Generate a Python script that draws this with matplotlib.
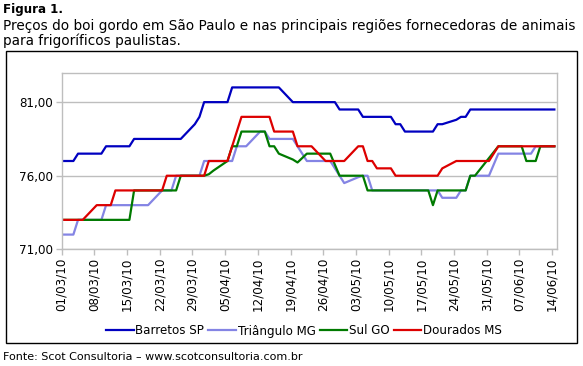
import pandas as pd
import matplotlib.pyplot as plt
import matplotlib.dates as mdates
from matplotlib.patches import Rectangle

# datas (dias úteis) e preços em R$/@
datas = pd.bdate_range("2010-03-01", "2010-06-14")

barretos = [77, 77, 77, 77.5, 77.5,
            77.5, 77.5, 78, 78, 78,
            78, 78.5, 78.5, 78.5, 78.5,
            78.5, 78.5, 78.5, 78.5, 78.5,
            79.5, 80, 81, 81, 81,
            81, 82, 82, 82, 82,
            82, 82, 82, 82, 82,
            81, 81, 81, 81, 81,
            81, 81, 81, 80.5, 80.5,
            80.5, 80, 80, 80, 80,
            80, 79.5, 79.5, 79, 79,
            79, 79, 79, 79.5, 79.5,
            79.8, 80, 80, 80.5, 80.5,
            80.5, 80.5, 80.5, 80.5, 80.5,
            80.5, 80.5, 80.5, 80.5, 80.5,
            80.5]

triangulo = [72, 72, 72, 73, 73,
             73, 73, 74, 74, 74,
             74, 74, 74, 74, 74,
             75, 75, 75, 76, 76,
             76, 76, 77, 77, 77,
             77, 77, 78, 78, 78,
             79, 79, 78.5, 78.5, 78.5,
             78.5, 78, 77.5, 77, 77,
             77, 77, 76.5, 76, 75.5,
             75.9, 76, 76, 75, 75,
             75, 75, 75, 75, 75,
             75, 75, 75, 75, 74.5,
             74.5, 75, 75, 76, 76,
             76, 76.75, 77.5, 77.5, 77.5,
             77.5, 77.5, 77.5, 78, 78,
             78]

sul_go = [73, 73, 73, 73, 73,
          73, 73, 73, 73, 73,
          73, 75, 75, 75, 75,
          75, 75, 75, 75, 76,
          76, 76, 76, 76.1, 76.35,
          77, 78, 78, 79, 79,
          79, 79, 78, 78, 77.5,
          77.1, 76.9, 77.2, 77.5, 77.5,
          77.5, 77.5, 76.75, 76, 76,
          76, 76, 75, 75, 75,
          75, 75, 75, 75, 75,
          75, 75, 74, 75, 75,
          75, 75, 75, 76, 76,
          77.2, 77.6, 78, 78, 78,
          78, 77, 77, 77, 78,
          78]

dourados = [73, 73, 73, 73, 73,
            74, 74, 74, 74, 75,
            75, 75, 75, 75, 75,
            75, 76, 76, 76, 76,
            76, 76, 76, 77, 77,
            77, 78, 79, 80, 80,
            80, 80, 80, 79, 79,
            79, 78, 78, 78, 78,
            77, 77, 77, 77, 77,
            78, 78, 77, 77, 76.5,
            76.5, 76, 76, 76, 76,
            76, 76, 76, 76, 76.5,
            77, 77, 77, 77, 77,
            77, 77.5, 78, 78, 78,
            78, 78, 78, 78, 78,
            78]

series = [("Barretos SP", barretos, "#0000C0"),
          ("Triângulo MG", triangulo, "#8484E4"),
          ("Sul GO", sul_go, "#007A00"),
          ("Dourados MS", dourados, "#DD0000")]

plt.rcParams["font.family"] = ["DejaVu Sans"]
fs = 8.6

fig = plt.figure(figsize=(5.83, 3.66), dpi=100)

# caixa externa do gráfico
fig.patches.append(Rectangle((6 / 583, 1 - 343 / 366), 571 / 583, 292 / 366,
                             transform=fig.transFigure, fill=False,
                             edgecolor="black", linewidth=1.0))

ax = fig.add_axes([61.7 / 583, 1 - 249.3 / 366, 495 / 583, 176.6 / 366])

# pontos no meio do dia (eixo de datas "entre marcas")
x = datas + pd.Timedelta(hours=12)
for nome, valores, cor in series:
    ax.plot(x, valores, color=cor, linewidth=1.6, label=nome)

ax.set_ylim(71, 83)
ax.set_yticks([71, 76, 81])
ax.set_yticklabels(["71,00", "76,00", "81,00"], fontsize=fs)
ax.set_xlim(pd.Timestamp("2010-03-01"), pd.Timestamp("2010-06-15"))
ax.set_xticks(pd.date_range("2010-03-01", "2010-06-14", freq="7D"))
ax.xaxis.set_major_formatter(mdates.DateFormatter("%d/%m/%y"))
plt.setp(ax.get_xticklabels(), rotation=90, fontsize=fs)

ax.grid(axis="y", color="#BEBEBE", linewidth=1.0)
ax.set_axisbelow(True)
for s in ax.spines.values():
    s.set_color("#BEBEBE")
    s.set_linewidth(1.0)
ax.tick_params(axis="both", color="#BEBEBE", length=4, width=1.0, pad=2)

fig.legend(loc="center", bbox_to_anchor=(304 / 583, 1 - 331 / 366), ncol=4,
           frameon=False, fontsize=fs, handlelength=2.3, handletextpad=0.15,
           columnspacing=0.35)

fig.text(3 / 583, 1 - 10 / 366, "Figura 1.", fontsize=fs, fontweight="bold",
         va="center", ha="left")
fig.text(3 / 583, 1 - 26 / 366,
         "Preços do boi gordo em São Paulo e nas principais regiões fornecedoras de animais",
         fontsize=9.8, va="center", ha="left")
fig.text(3 / 583, 1 - 41 / 366, "para frigoríficos paulistas.", fontsize=9.8,
         va="center", ha="left")
fig.text(3 / 583, 1 - 357 / 366, "Fonte: Scot Consultoria – www.scotconsultoria.com.br",
         fontsize=fs - 0.6, va="center", ha="left")

plt.savefig("out.png", dpi=100)
